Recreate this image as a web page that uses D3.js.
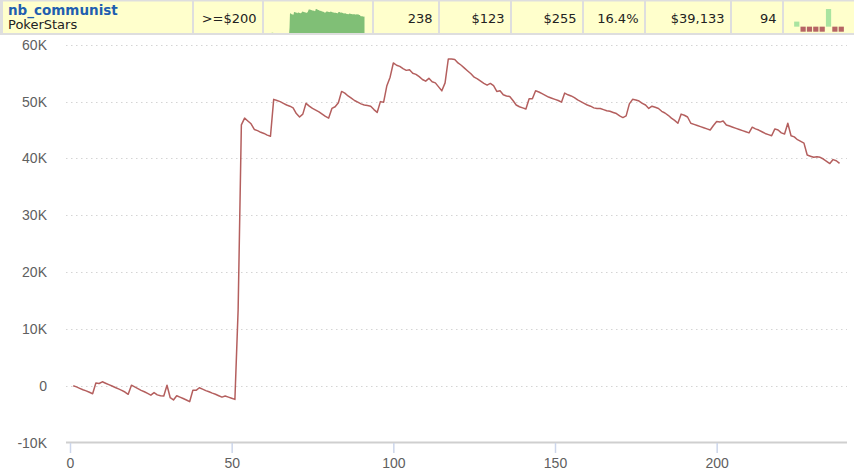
<!DOCTYPE html>
<html>
<head>
<meta charset="utf-8">
<script src="https://cdn.jsdelivr.net/npm/d3@7"></script>
<style>
  body { margin: 0; background: #fff; }
  svg { display: block; font-family: "DejaVu Sans", Verdana, sans-serif; }
</style>
</head>
<body>
<svg></svg>
<script>
/* header row */
var playerName = "nb_communist";
var siteName = "PokerStars";
var statTexts = [">=$200", "", "238", "$123", "$255", "16.4%", "$39,133", "94", ""];

/* last results, in buy-ins (loss = -1) */
var recentResults = [1, -1, -1, -1, -1, 3.5, -1, -1];

/* cumulative profit per tournament, in thousands of dollars */
var profitK = [
  0, -0.2, -0.45, -0.7, -0.9, -1.15, -1.4, 0.5, 0.4, 0.7,
  0.45, 0.2, -0.05, -0.3, -0.55, -0.8, -1.1, -1.5, 0.1, -0.2,
  -0.5, -0.8, -1.05, -1.35, -1.65, -1.2, -1.6, -1.75, -1.8, 0.1,
  -2.1, -2.5, -1.75, -2.0, -2.25, -2.5, -2.8, -0.8, -0.8, -0.35,
  -0.6, -0.85, -1.05, -1.3, -1.5, -1.75, -2.0, -1.8, -2.0, -2.2,
  -2.4, 13.4, 45.9, 47.1, 46.6, 46.1, 45.1, 44.9, 44.6, 44.4,
  44.1, 43.9, 50.4, 50.2, 50.0, 49.7, 49.4, 49.2, 48.9, 47.9,
  47.3, 47.8, 49.7, 49.2, 48.8, 48.5, 48.2, 47.8, 47.4, 47.1,
  48.8, 49.1, 49.8, 51.8, 51.5, 51.0, 50.6, 50.2, 49.9, 49.6,
  49.4, 49.3, 49.2, 48.6, 48.1, 50.0, 49.9, 52.8, 54.3, 56.8,
  56.4, 56.2, 55.8, 55.5, 55.6, 55.0, 54.8, 54.4, 53.9, 53.6,
  54.1, 53.5, 53.3, 52.6, 51.9, 53.3, 57.5, 57.5, 57.4, 56.8,
  56.4, 55.9, 55.4, 54.9, 54.3, 54.0, 53.6, 53.2, 52.9, 53.2,
  52.8, 51.8, 51.9, 51.2, 51.0, 50.9, 50.2, 49.4, 49.1, 48.9,
  48.7, 50.5, 50.5, 51.9, 51.7, 51.4, 51.1, 50.8, 50.6, 50.4,
  50.2, 49.9, 51.5, 51.2, 51.0, 50.7, 50.3, 50.0, 49.7, 49.4,
  49.2, 48.9, 48.8, 48.8, 48.6, 48.4, 48.3, 48.1, 47.9, 47.5,
  47.2, 47.5, 49.6, 50.4, 50.3, 50.1, 49.7, 49.4, 48.8, 49.2,
  49.0, 48.8, 48.3, 48.0, 47.6, 47.1, 46.7, 46.2, 47.8, 47.6,
  47.3, 46.2, 46.0, 45.8, 45.6, 45.4, 45.2, 45.0, 45.8, 46.5,
  46.4, 46.6, 45.9, 45.7, 45.5, 45.3, 45.1, 44.9, 44.7, 44.5,
  45.5, 45.2, 45.0, 44.7, 44.4, 44.2, 44.0, 45.2, 45.0, 44.5,
  44.3, 46.2, 44.0, 43.8, 43.3, 43.0, 42.7, 40.6, 40.4, 40.2,
  40.3, 40.2, 39.9, 39.5, 39.1, 39.8, 39.6, 39.133
];

var xTicks = [0, 50, 100, 150, 200];
var yTicks = [-10, 0, 10, 20, 30, 40, 50, 60];

var width = 854;
var height = 473;
var cellEdges = [2, 193, 263, 373, 439, 511, 583, 645, 731, 783, 856];

var svg = d3.select("svg").attr("width", width).attr("height", height);

/* ---------- main chart ---------- */
var xScale = d3.scaleLinear().domain([0, 240]).range([70, 846]);
var yScale = d3.scaleLinear().domain([-10, 60]).range([442.6, 44.8]);

var grid = svg.append("g");
grid
  .selectAll("line")
  .data(yTicks.filter((d) => d > -10))
  .enter()
  .append("line")
  .attr("x1", 66)
  .attr("x2", 847)
  .attr("y1", (d) => Math.round(yScale(d)) + 0.5)
  .attr("y2", (d) => Math.round(yScale(d)) + 0.5)
  .attr("stroke", "#d4d4d4")
  .attr("stroke-width", 1)
  .attr("stroke-dasharray", "1.5,3.5");

var yAxis = d3
  .axisLeft(yScale)
  .tickValues(yTicks)
  .tickSize(0)
  .tickPadding(0)
  .tickFormat((d) => (d === 0 ? "0" : d + "K"));
svg
  .append("g")
  .attr("transform", "translate(47, 0)")
  .call(yAxis)
  .call((g) => g.select(".domain").remove())
  .selectAll("text")
  .attr("fill", "#606060")
  .style("font-size", "14px");

/* x axis */
svg
  .append("line")
  .attr("x1", 66)
  .attr("x2", 847)
  .attr("y1", 442.5)
  .attr("y2", 442.5)
  .attr("stroke", "#cfcfcf")
  .attr("stroke-width", 2);

var xAxis = d3.axisBottom(xScale).tickValues(xTicks).tickSize(10).tickPadding(5);
var xg = svg
  .append("g")
  .attr("transform", "translate(0, 443)")
  .call(xAxis)
  .call((g) => g.select(".domain").remove());
xg.selectAll(".tick line").attr("stroke", "#ccd6eb").attr("stroke-width", 1.5);
xg.selectAll("text").attr("fill", "#606060").style("font-size", "14px");

/* profit line */
var line = d3
  .line()
  .x((d, i) => xScale(i + 1))
  .y((d) => yScale(d));
svg
  .append("path")
  .datum(profitK)
  .attr("d", line)
  .attr("fill", "none")
  .attr("stroke", "#b45f5e")
  .attr("stroke-width", 1.5)
  .attr("stroke-linejoin", "round");

/* ---------- header row ---------- */
var header = svg.append("g");
header
  .append("rect")
  .attr("x", 0)
  .attr("y", 0)
  .attr("width", width)
  .attr("height", 35)
  .attr("fill", "#dedede");
for (var c = 0; c < cellEdges.length - 1; c++) {
  header
    .append("rect")
    .attr("x", cellEdges[c] + 1)
    .attr("y", 1.5)
    .attr("width", cellEdges[c + 1] - cellEdges[c] - 2)
    .attr("height", 31.5)
    .attr("fill", "#ffffcc");
}
header
  .append("text")
  .attr("x", 8)
  .attr("y", 15)
  .attr("fill", "#1f5fb0")
  .style("font-size", "13.5px")
  .style("font-weight", "bold")
  .text(playerName);
header
  .append("text")
  .attr("x", 8)
  .attr("y", 29)
  .attr("fill", "#222")
  .style("font-size", "13px")
  .text(siteName);

header
  .selectAll(".stat")
  .data(statTexts)
  .enter()
  .append("text")
  .attr("class", "stat")
  .attr("x", (d, i) => cellEdges[i + 2] - 6.5)
  .attr("y", 22.5)
  .attr("text-anchor", "end")
  .attr("fill", "#222")
  .style("font-size", "13px")
  .text((d) => d);

/* sparkline of the same profit series */
var sparkX = d3.scaleLinear().domain([1, profitK.length]).range([269, 364.5]);
var sparkY = d3
  .scaleLinear()
  .domain([0, d3.max(profitK)])
  .range([33, 9])
  .clamp(true);
var sparkArea = d3
  .area()
  .x((d, i) => sparkX(i + 1))
  .y0(33)
  .y1((d) => sparkY(d));
header
  .append("path")
  .datum(profitK)
  .attr("d", sparkArea)
  .attr("fill", "#80bf76");

/* recent results bars */
var barX = d3
  .scaleBand()
  .domain(d3.range(recentResults.length))
  .range([793, 845])
  .padding(0.18);
var barY = d3.scaleLinear().domain([-1, 3.5]).range([31.7, 9]);
header
  .selectAll(".res")
  .data(recentResults)
  .enter()
  .append("rect")
  .attr("class", "res")
  .attr("x", (d, i) => barX(i))
  .attr("width", barX.bandwidth())
  .attr("y", (d) => Math.min(barY(d), barY(0)))
  .attr("height", (d) => Math.abs(barY(d) - barY(0)))
  .attr("fill", (d) => (d > 0 ? "#a9e4a0" : "#b66464"));
</script>
</body>
</html>
